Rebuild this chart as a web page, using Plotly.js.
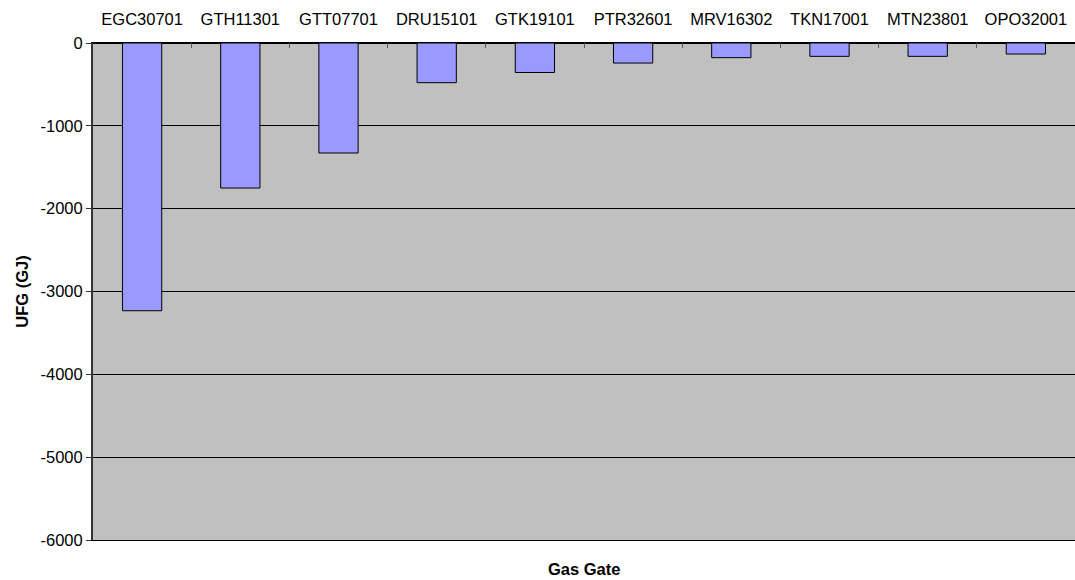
<!DOCTYPE html>
<html>
<head>
<meta charset="utf-8">
<script src="https://cdn.plot.ly/plotly-3.0.1.min.js"></script>
<style>html,body{margin:0;padding:0;background:#fff;}#chart{width:1075px;height:580px;}</style>
</head>
<body>
<div id="chart"></div>
<script>
const gasGates = ["EGC30701","GTH11301","GTT07701","DRU15101","GTK19101","PTR32601","MRV16302","TKN17001","MTN23801","OPO32001"];
const ufgValues = [-3232,-1751,-1328,-479,-356,-242,-177,-161,-161,-133];
const yTicks = [0,-1000,-2000,-3000,-4000,-5000,-6000];

const font = "'Liberation Sans', Arial, sans-serif";
Plotly.newPlot('chart', [{
  type: 'bar',
  x: gasGates,
  y: ufgValues,
  marker: {color: '#9999ff', line: {color: '#000000', width: 1}},
  hoverinfo: 'x+y'
}], {
  width: 1075, height: 580,
  margin: {l: 93, r: 0, t: 43, b: 40, pad: 0},
  paper_bgcolor: '#ffffff',
  plot_bgcolor: '#c0c0c0',
  bargap: 0.6,
  showlegend: false,
  font: {family: font, size: 16.5, color: '#000'},
  xaxis: {
    type: 'category', side: 'top',
    ticks: 'inside', ticklen: 5, tickcolor: '#555', tickson: 'boundaries',
    ticklabelstandoff: 10,
    showline: true, linecolor: '#000', linewidth: 1, mirror: true,
    showgrid: false, zeroline: false,
    tickfont: {family: font, size: 16.5, color: '#000'}
  },
  yaxis: {
    range: [-6000, 0], tickvals: yTicks, ticktext: yTicks.map(String),
    ticks: 'outside', ticklen: 5, tickcolor: '#333',
    showline: true, linecolor: '#333', linewidth: 2,
    showgrid: true, gridcolor: '#000', gridwidth: 1,
    zeroline: true, zerolinecolor: '#000', zerolinewidth: 1,
    tickfont: {family: font, size: 16.5, color: '#000'},
    title: {text: 'UFG (GJ)', font: {family: font, size: 16.5, color: '#000', weight: 'bold'}, standoff: 8}
  },
  annotations: [{
    text: '<b>Gas Gate</b>', xref: 'paper', yref: 'paper', x: 0.5, y: 0,
    yshift: -29, showarrow: false, xanchor: 'center', yanchor: 'middle',
    font: {family: font, size: 16.5, color: '#000'}
  }]
}, {displayModeBar: false, staticPlot: true});
</script>
</body>
</html>
